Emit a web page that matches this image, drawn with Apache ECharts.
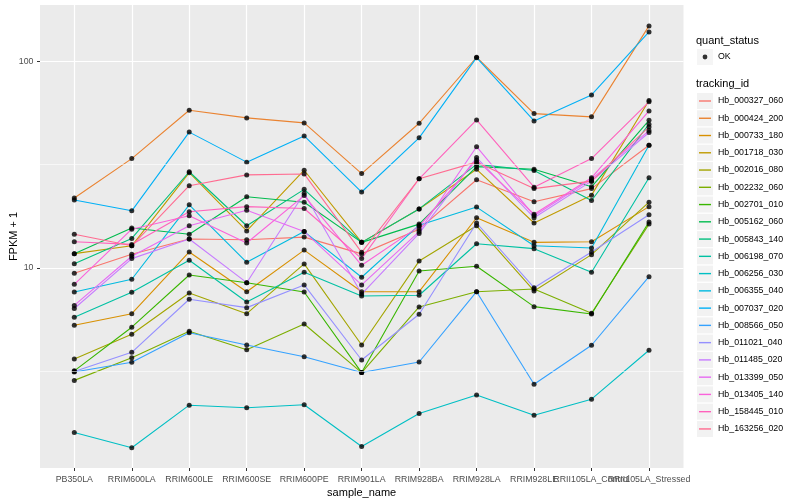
<!DOCTYPE html>
<html><head><meta charset="utf-8">
<script src="https://cdn.jsdelivr.net/npm/echarts@6/dist/echarts.min.js"></script>
<style>html,body{margin:0;padding:0;background:#fff}#c{width:800px;height:500px}</style>
</head><body><div id="c"></div>
<script>
// ---- data ----
const categories = ["PB350LA","RRIM600LA","RRIM600LE","RRIM600SE","RRIM600PE","RRIM901LA","RRIM928BA","RRIM928LA","RRIM928LE","RRII105LA_Control","RRII105LA_Stressed"];
const trackingIds = ["Hb_000327_060","Hb_000424_200","Hb_000733_180","Hb_001718_030","Hb_002016_080","Hb_002232_060","Hb_002701_010","Hb_005162_060","Hb_005843_140","Hb_006198_070","Hb_006256_030","Hb_006355_040","Hb_007037_020","Hb_008566_050","Hb_011021_040","Hb_011485_020","Hb_013399_050","Hb_013405_140","Hb_158445_010","Hb_163256_020"];
const Hb_000327_060 = [9.43, 11.65, 13.8, 13.7, 14.1, 11.7, 15.4, 26.7, 20.9, 24.2, 39.2];
const Hb_000424_200 = [21.8, 33.8, 57.9, 53.2, 50.3, 28.6, 50.1, 104.5, 55.8, 53.8, 148.2];
const Hb_000733_180 = [5.28, 6.01, 11.95, 7.68, 12.2, 7.68, 7.68, 17.5, 13.3, 13.4, 19.8];
const Hb_001718_030 = [11.73, 12.8, 28.9, 15.1, 29.7, 13.3, 19.3, 30.0, 16.5, 22.5, 64.5];
const Hb_002016_080 = [3.63, 4.78, 7.57, 6.01, 10.46, 4.24, 10.8, 16.0, 7.74, 11.6, 20.8];
const Hb_002232_060 = [2.86, 3.68, 4.94, 4.02, 5.36, 3.12, 6.48, 7.68, 7.91, 6.04, 16.3];
const Hb_002701_010 = [3.18, 5.17, 9.25, 8.49, 7.65, 3.12, 9.67, 10.2, 6.50, 5.99, 16.7];
const Hb_005162_060 = [11.73, 15.6, 14.55, 22.1, 20.8, 13.3, 16.3, 30.9, 30.0, 24.7, 51.8];
const Hb_005843_140 = [10.49, 13.9, 29.2, 16.0, 24.0, 13.3, 19.3, 31.7, 29.6, 21.2, 49.6];
const Hb_006198_070 = [5.77, 7.63, 10.9, 6.85, 9.53, 7.32, 7.38, 13.1, 12.4, 9.53, 27.3];
const Hb_006256_030 = [1.60, 1.35, 2.17, 2.11, 2.18, 1.37, 1.98, 2.43, 1.94, 2.32, 4.00];
const Hb_006355_040 = [7.65, 8.82, 20.2, 10.65, 15.0, 9.02, 16.1, 19.7, 12.8, 12.5, 39.2];
const Hb_007037_020 = [21.3, 18.9, 45.4, 32.5, 43.5, 23.3, 42.6, 104, 51.4, 68.7, 138.6];
const Hb_008566_050 = [3.14, 3.50, 4.86, 4.24, 3.72, 3.12, 3.51, 7.68, 2.74, 4.23, 9.08];
const Hb_011021_040 = [3.16, 3.91, 7.06, 6.43, 8.28, 3.59, 5.97, 16.5, 8.03, 11.95, 18.1];
const Hb_011485_020 = [6.37, 11.1, 13.8, 8.49, 23.0, 7.48, 14.7, 34.2, 17.5, 26.3, 45.2];
const Hb_013399_050 = [6.59, 11.4, 16.0, 19.0, 15.0, 8.28, 15.0, 38.6, 17.9, 26.9, 46.2];
const Hb_013405_140 = [8.34, 15.4, 17.9, 13.2, 22.4, 10.3, 15.9, 33.3, 18.2, 27.3, 57.5];
const Hb_158445_010 = [13.4, 13.0, 18.7, 19.8, 19.4, 11.1, 27.0, 52.0, 24.6, 33.8, 63.6];
const Hb_163256_020 = [14.55, 12.8, 25.0, 28.2, 28.5, 11.9, 27.0, 32.5, 24.2, 26.3, 48.1];
const seriesValues = [Hb_000327_060, Hb_000424_200, Hb_000733_180, Hb_001718_030, Hb_002016_080, Hb_002232_060, Hb_002701_010, Hb_005162_060, Hb_005843_140, Hb_006198_070, Hb_006256_030, Hb_006355_040, Hb_007037_020, Hb_008566_050, Hb_011021_040, Hb_011485_020, Hb_013399_050, Hb_013405_140, Hb_158445_010, Hb_163256_020];
const yTickValues = [10, 100];
const yMinorBreaks = [3.162, 31.62];
const statusLevels = ["OK"];

// ---- style ----
const palette = ["#F8766D","#EA8331","#D89000","#C09B00","#A3A500","#7CAE00","#39B600","#00BB4E","#00BF7D","#00C1A3","#00BFC4","#00BAE0","#00B0F6","#35A2FF","#9590FF","#C77CFF","#E76BF3","#FA62DB","#FF62BC","#FF6C91"];
const FONT = "Liberation Sans, Arial, Helvetica, sans-serif";
const yMin = 1.078, yMax = 187;

const chart = echarts.init(document.getElementById('c'));

const lineSeries = trackingIds.map((id, k) => ({
  name: id, type: 'line', xAxisIndex: 1, yAxisIndex: 1,
  data: seriesValues[k], symbol: 'none', showSymbol: false,
  color: palette[k], lineStyle: { width: 1.1, color: palette[k] },
  silent: true, emphasis: { disabled: true }, z: 3
}));
const pointData = [];
seriesValues.forEach(vals => vals.forEach((v, i) => pointData.push([categories[i], v])));

const legendBase = { orient: 'vertical', left: 697, itemWidth: 16, itemHeight: 16, itemGap: 1.26, padding: 0, selectedMode: false };
const lineIcon = 'path://M0,0M16,16M2,7.3L14,7.3L14,8.7L2,8.7Z';
const dotIcon = 'path://M0,0M16,16M10.4,8A2.4,2.4,0,1,1,5.6,8A2.4,2.4,0,1,1,10.4,8Z';

chart.setOption({
  animation: false,
  textStyle: { fontFamily: FONT },
  title: [
    { text: 'quant_status', left: 696, top: 34, padding: 0, textStyle: { fontFamily: FONT, fontSize: 11, fontWeight: 'normal', color: '#000', lineHeight: 13 } },
    { text: 'tracking_id', left: 696, top: 77.5, padding: 0, textStyle: { fontFamily: FONT, fontSize: 11, fontWeight: 'normal', color: '#000', lineHeight: 13 } }
  ],
  legend: [
    Object.assign({}, legendBase, { top: 49, data: statusLevels, icon: 'rect', z: 3,
      itemStyle: { color: '#F2F2F2', borderWidth: 0 }, textStyle: { color: 'rgba(0,0,0,0)', fontSize: 8.8, lineHeight: 16 } }),
    Object.assign({}, legendBase, { top: 49, data: statusLevels, icon: dotIcon, z: 4,
      itemStyle: { color: '#000', borderWidth: 0 }, textStyle: { color: '#000', fontSize: 8.8, fontFamily: FONT, lineHeight: 16 } }),
    Object.assign({}, legendBase, { top: 93, data: trackingIds, icon: 'rect', z: 3,
      itemStyle: { color: '#F2F2F2', borderWidth: 0 }, textStyle: { color: 'rgba(0,0,0,0)', fontSize: 8.8, lineHeight: 16 } }),
    Object.assign({}, legendBase, { top: 93, data: trackingIds, icon: lineIcon, z: 4,
      itemStyle: { borderWidth: 0 }, textStyle: { color: '#000', fontSize: 8.8, fontFamily: FONT, lineHeight: 16 } })
  ],
  grid: [
    { left: 40, top: 5, width: 643.5, height: 463, show: true, backgroundColor: '#EBEBEB', borderWidth: 0, containLabel: false, outerBoundsMode: 'none' },
    { left: 74.3, top: 5, width: 574.7, height: 463, show: false, containLabel: false, outerBoundsMode: 'none' }
  ],
  xAxis: [
    { type: 'value', gridIndex: 0, min: 0, max: 1, show: false },
    { type: 'category', gridIndex: 1, data: categories, boundaryGap: false,
      axisLine: { show: false },
      axisTick: { show: true, length: 3, interval: 0, lineStyle: { color: '#333333', width: 1 } },
      axisLabel: { interval: 0, margin: 7.5, fontSize: 8.8, color: '#4D4D4D', fontFamily: FONT, hideOverlap: false },
      splitLine: { show: true, interval: 0, lineStyle: { color: '#FFFFFF', width: 1.2 } },
      name: 'sample_name', nameLocation: 'middle', nameGap: 19, nameMoveOverlap: false,
      nameTextStyle: { fontSize: 11, color: '#000', fontFamily: FONT } }
  ],
  yAxis: [
    { type: 'log', gridIndex: 0, logBase: 10, min: yMin, max: yMax,
      axisLine: { show: false },
      axisTick: { show: true, length: 3, customValues: yTickValues, lineStyle: { color: '#333333', width: 1 } },
      axisLabel: { customValues: yTickValues, margin: 6.5, fontSize: 8.8, color: '#4D4D4D', fontFamily: FONT },
      splitLine: { show: true, lineStyle: { color: '#FFFFFF', width: 1.2 } },
      name: 'FPKM + 1', nameLocation: 'middle', nameGap: 21, nameRotate: 90, nameMoveOverlap: false,
      nameTextStyle: { fontSize: 11, color: '#000', fontFamily: FONT } },
    { type: 'log', gridIndex: 1, logBase: 10, min: yMin, max: yMax, show: false, splitLine: { show: false } }
  ],
  series: [
    { name: 'minor', type: 'line', xAxisIndex: 0, yAxisIndex: 0, data: [], silent: true, z: 1,
      markLine: { silent: true, symbol: 'none', label: { show: false }, animation: false,
        lineStyle: { color: '#FFFFFF', width: 0.6, type: 'solid' },
        emphasis: { disabled: true },
        data: yMinorBreaks.map(v => ({ yAxis: v })) } }
  ].concat(lineSeries).concat([
    { name: 'OK', type: 'scatter', xAxisIndex: 1, yAxisIndex: 1, data: pointData,
      symbol: 'circle', symbolSize: 5, itemStyle: { color: '#000' }, silent: true, z: 4, clip: false }
  ])
});
</script>
</body></html>
